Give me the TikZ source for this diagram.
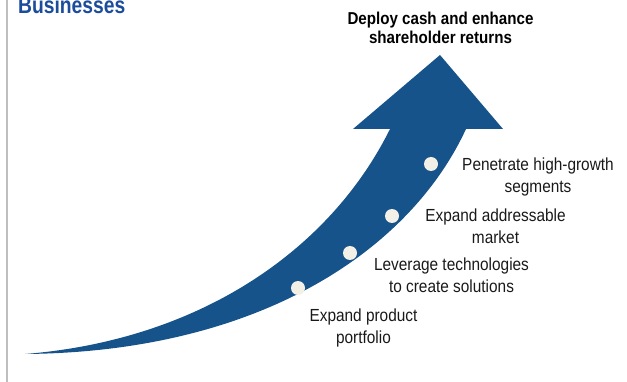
\documentclass[tikz,border=0pt]{standalone}
\usepackage{fontspec}
\setmainfont{Liberation Sans}[FakeStretch=0.88]
\newfontfamily\goalfont{Liberation Sans}[FakeStretch=0.88]
\newfontfamily\bizfont{Liberation Sans}[FakeStretch=0.82]
\definecolor{arrowblue}{RGB}{21,83,138}
\definecolor{titleblue}{RGB}{28,76,156}
\definecolor{dotfill}{RGB}{243,240,232}
\definecolor{framegray}{RGB}{190,190,190}
\definecolor{labeltext}{RGB}{25,25,25}
\tikzset{
  dotmark/.style={circle,fill=dotfill,draw=none,minimum size=14pt,inner sep=0pt},
  steplabel/.style={align=center,inner sep=0pt,text=labeltext,font=\fontsize{17.5}{22}\selectfont,anchor=base},
  goallabel/.style={align=center,inner sep=0pt,text=black,font=\goalfont\bfseries\fontsize{17.2}{18.5}\selectfont,anchor=base},
}
\begin{document}
\begin{tikzpicture}[x=1pt,y=-1pt]
\useasboundingbox (0,0) rectangle (627,382);
\draw[framegray,line width=1.6pt] (7,0) -- (7,382);
\node[anchor=base west,inner sep=0pt,text=titleblue,font=\bizfont\bfseries\fontsize{23.5}{24}\selectfont] (biz) at (18,14) {Businesses};
% arrow
\fill[arrowblue] (25,354) .. controls (200,340) and (330,250) .. (390,129)
  -- (353,129) -- (440,55) -- (503,129) -- (466,129)
  .. controls (410,250) and (260,352) .. (25,354) -- cycle;
% dots
\node[dotmark] (d1) at (298,288) {};
\node[dotmark] (d2) at (350,253) {};
\node[dotmark] (d3) at (392,216) {};
\node[dotmark] (d4) at (431,164) {};
% labels
\node[goallabel] (goal) at (440.5,43.5) {Deploy cash and enhance\\shareholder returns};
\node[steplabel] (l4) at (538,193) {Penetrate high-growth\\segments};
\node[steplabel] (l3) at (495.5,244) {Expand addressable\\market};
\node[steplabel] (l2) at (451.5,293) {Leverage technologies\\to create solutions};
\node[steplabel] (l1) at (363.5,344) {Expand product\\portfolio};
\end{tikzpicture}
\end{document}
